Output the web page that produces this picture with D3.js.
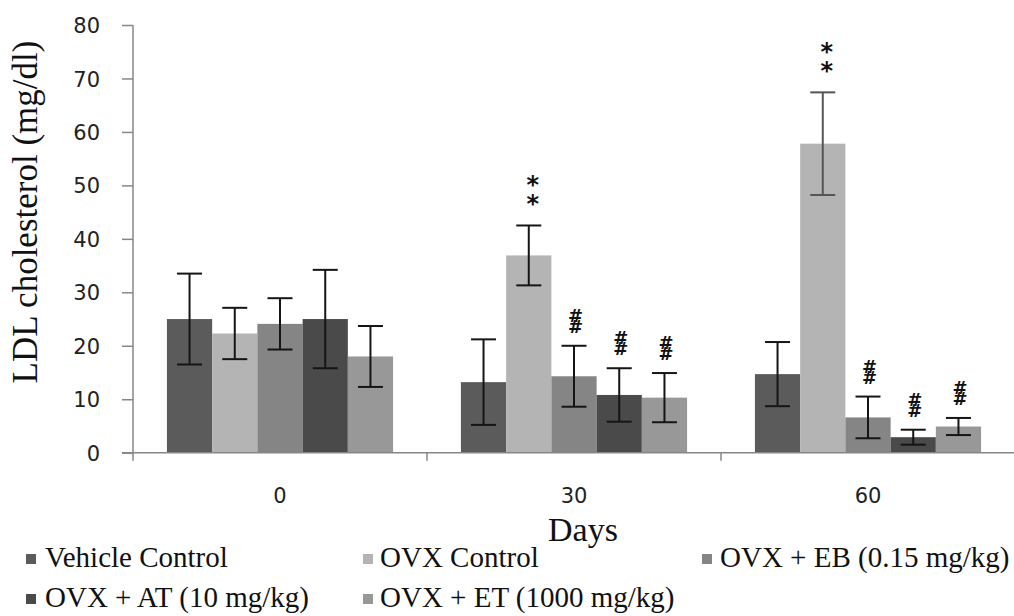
<!DOCTYPE html>
<html>
<head>
<meta charset="utf-8">
<script src="https://cdn.jsdelivr.net/npm/d3@7"></script>
<style>
  html, body { margin: 0; padding: 0; background: #fff; }
  svg { display: block; }
  .sig { writing-mode: vertical-rl; text-orientation: upright; }
</style>
</head>
<body>
<svg id="chart" width="1014" height="616"></svg>
<script>
// ---- data ----
const categories = ["0", "30", "60"];
const seriesNames = ["Vehicle Control", "OVX Control", "OVX + EB (0.15 mg/kg)", "OVX + AT (10 mg/kg)", "OVX + ET (1000 mg/kg)"];
const vehicleControl = [25.0, 13.2, 14.7];
const ovxControl     = [22.3, 36.9, 57.8];
const ovxEB          = [24.1, 14.3, 6.6];
const ovxAT          = [25.0, 10.8, 2.9];
const ovxET          = [18.0, 10.3, 4.9];
const vehicleErr = [8.5, 8.0, 6.0];
const ovxErr     = [4.8, 5.6, 9.6];
const ebErr      = [4.8, 5.7, 3.9];
const atErr      = [9.2, 5.0, 1.4];
const etErr      = [5.7, 4.6, 1.6];
const vehicleSig = ["", "", ""];
const ovxSig     = ["", "**", "**"];
const ebSig      = ["", "##", "##"];
const atSig      = ["", "##", "##"];
const etSig      = ["", "##", "##"];
const yTicks = [0, 10, 20, 30, 40, 50, 60, 70, 80];
const yTitle = "LDL cholesterol (mg/dl)";
const xTitle = "Days";

const seriesValues = [vehicleControl, ovxControl, ovxEB, ovxAT, ovxET];
const seriesErrors = [vehicleErr, ovxErr, ebErr, atErr, etErr];
const seriesSig = [vehicleSig, ovxSig, ebSig, atSig, etSig];
const colors = ["#5b5b5b", "#b4b4b4", "#858585", "#4a4a4a", "#989898"];

const rows = [];
seriesNames.forEach((s, si) => {
  categories.forEach((c, ci) => {
    rows.push({ series: s, si, cat: c, value: seriesValues[si][ci], err: seriesErrors[si][ci], sig: seriesSig[si][ci] });
  });
});

// ---- layout ----
const svg = d3.select("#chart");
const mLeft = 133, mRight = 1015, mTop = 25, mBottom = 452.7;

const x0 = d3.scaleBand().domain(categories).range([mLeft, mRight]).paddingInner(0).paddingOuter(0);
const x1 = d3.scaleBand().domain(seriesNames).range([0, x0.bandwidth()]).paddingInner(0).paddingOuter(0.75);
const y = d3.scaleLinear().domain([0, 80]).range([mBottom, mTop]);
const color = d3.scaleOrdinal().domain(seriesNames).range(colors);

// bars
const g = svg.append("g");
g.selectAll("rect.bar").data(rows).join("rect")
  .attr("class", "bar")
  .attr("x", d => x0(d.cat) + x1(d.series))
  .attr("width", x1.bandwidth())
  .attr("y", d => y(d.value))
  .attr("height", d => y(0) - y(d.value))
  .attr("fill", d => color(d.series));

// error bars
const eb = g.selectAll("g.err").data(rows).join("g").attr("class", "err")
  .attr("transform", d => `translate(${x0(d.cat) + x1(d.series) + x1.bandwidth() / 2},0)`);
const errColor = d => (d.si === 1 && d.cat === "60") ? "#555" : "#151515";
eb.append("line").attr("x1", 0).attr("x2", 0)
  .attr("y1", d => y(d.value + d.err)).attr("y2", d => y(d.value - d.err))
  .attr("stroke", errColor).attr("stroke-width", 2);
eb.append("line").attr("x1", -12.5).attr("x2", 12.5)
  .attr("y1", d => y(d.value + d.err)).attr("y2", d => y(d.value + d.err))
  .attr("stroke", errColor).attr("stroke-width", 2);
eb.append("line").attr("x1", -12.5).attr("x2", 12.5)
  .attr("y1", d => y(d.value - d.err)).attr("y2", d => y(d.value - d.err))
  .attr("stroke", errColor).attr("stroke-width", 2);

// significance marks: glyph pairs stacked vertically in one text element
const sigRows = rows.filter(d => d.sig);
const isStar = d => d.sig[0] === "*";
svg.selectAll("text.sig").data(sigRows).join("text")
  .attr("class", "sig")
  .attr("text-anchor", "middle")
  .attr("fill", "#111")
  .attr("x", d => x0(d.cat) + x1(d.series) + x1.bandwidth() / 2 + (isStar(d) ? 4 : 1.5))
  .attr("y", d => y(d.value + d.err) - (isStar(d) ? 35.5 : 30))
  .style("font-family", "'DejaVu Sans', sans-serif")
  .style("font-weight", "bold")
  .style("font-size", d => isStar(d) ? "24px" : "18px")
  .style("letter-spacing", d => isStar(d) ? "-9px" : "-10px")
  .text(d => d.sig);

// y axis
const yAxis = svg.append("g").attr("transform", `translate(${mLeft},0)`)
  .call(d3.axisLeft(y).tickValues(yTicks).tickSize(11).tickSizeOuter(0).tickPadding(22));
yAxis.select(".domain").attr("stroke", "#878787").attr("stroke-width", 1.5)
  .attr("d", `M0,${mTop}V${mBottom + 8}`);
yAxis.selectAll(".tick line").attr("stroke", "#878787").attr("stroke-width", 1.5);
yAxis.selectAll(".tick text")
  .style("font-family", "'DejaVu Sans', Verdana, sans-serif").style("font-size", "21px")
  .attr("fill", "#222").attr("dy", "0.36em");

// x axis
const xAxis = svg.append("g").attr("transform", `translate(0,${mBottom})`)
  .call(d3.axisBottom(x0).tickSize(0).tickSizeOuter(0));
xAxis.select(".domain").attr("stroke", "#878787").attr("stroke-width", 1.5)
  .attr("d", `M${mLeft - 11},0H${mRight}`);
xAxis.selectAll(".tick text")
  .attr("y", 50).attr("dy", 0)
  .style("font-family", "'DejaVu Sans', Verdana, sans-serif").style("font-size", "21px")
  .attr("fill", "#222");
// category boundary ticks
xAxis.selectAll("line.bound").data(categories).join("line").attr("class", "bound")
  .attr("x1", d => x0(d) + x0.bandwidth()).attr("x2", d => x0(d) + x0.bandwidth())
  .attr("y1", 0).attr("y2", 8).attr("stroke", "#878787").attr("stroke-width", 1.5);

// axis titles
svg.append("text")
  .attr("transform", `translate(37,212) rotate(-90)`)
  .attr("text-anchor", "middle")
  .style("font-family", "'Liberation Serif', 'Times New Roman', serif").style("font-size", "35px")
  .attr("fill", "#111").text(yTitle);
svg.append("text")
  .attr("x", 583).attr("y", 541).attr("text-anchor", "middle")
  .style("font-family", "'Liberation Serif', 'Times New Roman', serif").style("font-size", "34px")
  .attr("fill", "#111").text(xTitle);

// legend
const legendPos = [[26, 567], [363, 567], [702, 567], [26, 607], [363, 607]];
const lg = svg.selectAll("g.leg").data(seriesNames).join("g").attr("class", "leg")
  .attr("transform", (d, i) => `translate(${legendPos[i][0]},${legendPos[i][1]})`);
lg.append("rect").attr("x", 0).attr("y", -13).attr("width", 10).attr("height", 10)
  .attr("fill", d => color(d));
lg.append("text").attr("x", (d, i) => i === 0 || i === 3 ? 19 : (i === 2 ? 18 : 17)).attr("y", 0)
  .style("font-family", "'Liberation Serif', 'Times New Roman', serif").style("font-size", "29px")
  .attr("fill", "#111").text(d => d);
</script>
</body>
</html>
